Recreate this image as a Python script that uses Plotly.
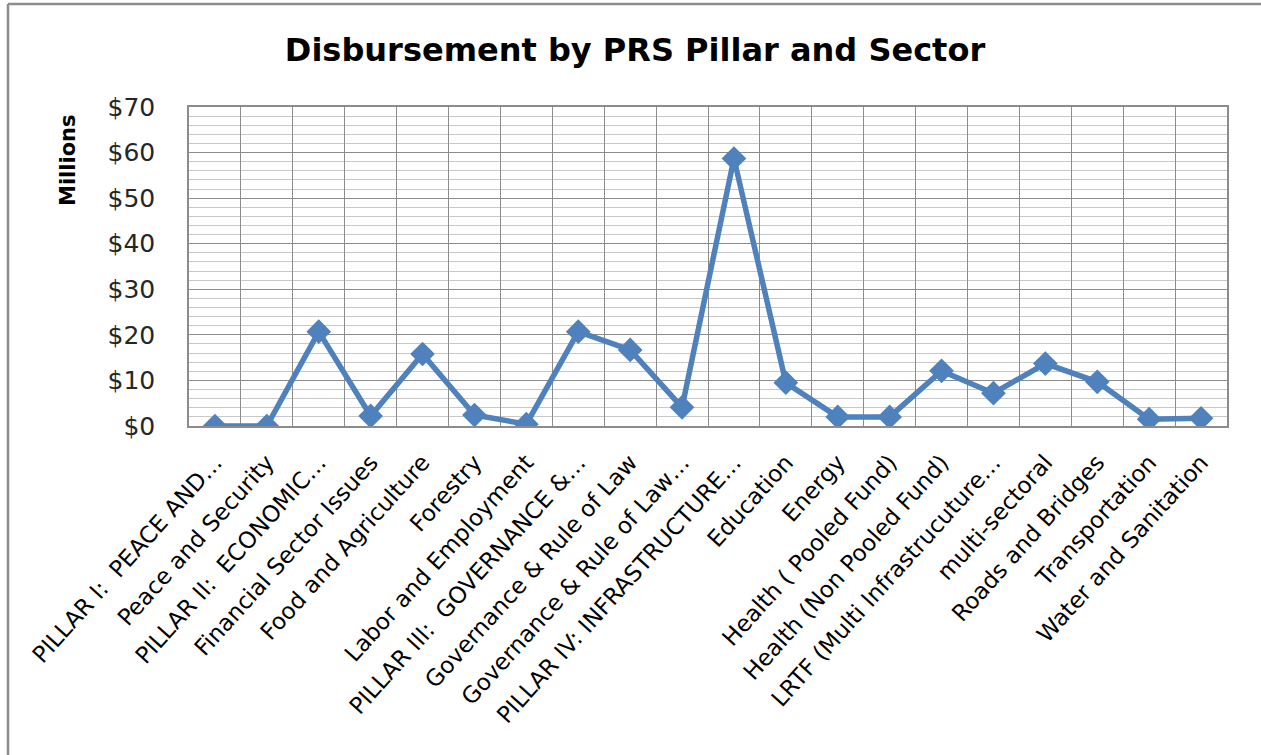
import plotly.graph_objects as go

categories = [
    "PILLAR I:  PEACE AND…",
    "Peace and Security",
    "PILLAR II:  ECONOMIC…",
    "Financial Sector Issues",
    "Food and Agriculture",
    "Forestry",
    "Labor and Employment",
    "PILLAR III:  GOVERNANCE &…",
    "Governance & Rule of Law",
    "Governance & Rule of Law…",
    "PILLAR IV: INFRASTRUCTURE…",
    "Education",
    "Energy",
    "Health ( Pooled Fund)",
    "Health (Non Pooled Fund)",
    "LRTF (Multi Infrastrucuture…",
    "multi-sectoral",
    "Roads and Bridges",
    "Transportation",
    "Water and Sanitation",
]
disbursement_millions = [0.0, 0.0, 20.7, 2.2, 15.8, 2.4, 0.4, 20.7, 16.7, 4.1,
                         58.7, 9.5, 2.0, 2.0, 12.1, 7.2, 13.7, 9.7, 1.5, 1.7]
y_tick_values = [0, 10, 20, 30, 40, 50, 60, 70]
y_tick_labels = ["$0", "$10", "$20", "$30", "$40", "$50", "$60", "$70"]

W, H = 1261, 755
L, R, T, B = 189, 1227, 107, 426
FONT = "DejaVu Sans, Verdana, sans-serif"

fig = go.Figure()
fig.add_trace(go.Scatter(
    x=categories, y=disbursement_millions, mode="lines+markers",
    line=dict(color="#4F81BD", width=5.5),
    marker=dict(symbol="diamond", size=19, color="#4F81BD"),
    hoverinfo="x+y", showlegend=False,
))

fig.update_layout(
    width=W, height=H,
    margin=dict(l=L, r=W - R, t=T, b=H - B, pad=0),
    paper_bgcolor="white", plot_bgcolor="white",
    font=dict(family=FONT, color="black"),
    title=dict(text="<b>Disbursement by PRS Pillar and Sector</b>",
               x=635 / W, xref="container", xanchor="center",
               y=1 - 50 / H, yref="container", yanchor="middle",
               font=dict(size=32, color="black", family=FONT)),
    xaxis=dict(
        type="category", tickson="boundaries", showgrid=True,
        gridcolor="#8C8C8C", gridwidth=1.3,
        tickangle=-48, ticks="", ticklabelstandoff=12,
        tickfont=dict(size=23, color="black", family=FONT),
        showline=True, linecolor="#8C8C8C", linewidth=1.5, mirror=True,
        range=[-0.5, len(categories) - 0.5], fixedrange=True,
    ),
    yaxis=dict(
        range=[0, 70], tickvals=y_tick_values, ticktext=y_tick_labels,
        showgrid=True, gridcolor="#8C8C8C", gridwidth=1.3,
        minor=dict(dtick=2, showgrid=True, gridcolor="#C8C8C8", gridwidth=1),
        ticks="", ticklabelstandoff=27,
        tickfont=dict(size=25, color="#262626", family=FONT),
        showline=True, linecolor="#8C8C8C", linewidth=1.5, mirror=True,
        zeroline=False, fixedrange=True,
    ),
)

pw, ph = R - L, B - T
def px_x(v):
    return (v - L) / pw
def px_y(v):
    return (B - v) / ph

# outer chart frame (left and top edges visible)
fig.add_shape(type="line", xref="paper", yref="paper",
              x0=px_x(8), x1=px_x(8), y0=px_y(H + 10), y1=px_y(4),
              line=dict(color="#8C8C8C", width=2.5))
fig.add_shape(type="line", xref="paper", yref="paper",
              x0=px_x(8), x1=px_x(W + 10), y0=px_y(4), y1=px_y(4),
              line=dict(color="#8C8C8C", width=2.5))

fig.add_annotation(text="<b>Millions</b>", xref="paper", yref="paper",
                   x=px_x(68), y=px_y(160), textangle=-90, showarrow=False,
                   font=dict(size=21, color="black", family=FONT),
                   xanchor="center", yanchor="middle")

fig.write_html("out.html", config={"displayModeBar": False},
               post_script="document.body.style.margin='0';document.body.style.overflow='hidden';")
